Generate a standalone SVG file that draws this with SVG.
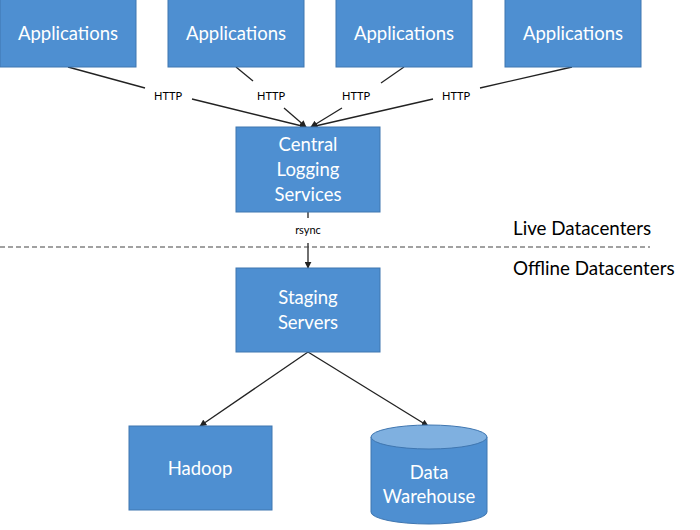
<svg xmlns="http://www.w3.org/2000/svg" width="700" height="530" viewBox="0 0 700 530">
<style>
.box{fill:#4e8fd1;stroke:#3f76b0;stroke-width:1}
.t{font-family:Lato,"Open Sans","Liberation Sans",sans-serif;fill:#fff;font-size:18.5px;text-anchor:middle}
.lbl{font-family:Lato,"Open Sans","Liberation Sans",sans-serif;fill:#000;font-size:11px;text-anchor:middle}
.side{font-family:Lato,"Open Sans","Liberation Sans",sans-serif;fill:#000;font-size:18.8px}
.c{stroke:#222;stroke-width:1.3;fill:none}
</style>
<defs>
<marker id="ah" viewBox="0 0 10 10" refX="9" refY="5" markerWidth="7" markerHeight="7" orient="auto" markerUnits="userSpaceOnUse">
<path d="M0,0 L10,5 L0,10 z" fill="#222"/>
</marker>
</defs>
<rect width="700" height="530" fill="#fff"/>
<g id="connectors">
<line class="c" x1="68" y1="67" x2="145" y2="88"/>
<line class="c" x1="192" y1="99" x2="306" y2="127" marker-end="url(#ah)"/>
<line class="c" x1="236" y1="67" x2="253" y2="81"/>
<line class="c" x1="284" y1="108" x2="306" y2="127" marker-end="url(#ah)"/>
<line class="c" x1="404" y1="67" x2="381" y2="83"/>
<line class="c" x1="342" y1="108" x2="311" y2="127" marker-end="url(#ah)"/>
<line class="c" x1="572" y1="67" x2="480" y2="88"/>
<line class="c" x1="433" y1="99" x2="311" y2="127" marker-end="url(#ah)"/>
<text class="lbl" x="168" y="100">HTTP</text>
<text class="lbl" x="271" y="100">HTTP</text>
<text class="lbl" x="356" y="100">HTTP</text>
<text class="lbl" x="456" y="100">HTTP</text>
<line class="c" x1="308" y1="212" x2="308" y2="218"/>
<text class="lbl" x="308" y="234">rsync</text>
<line class="c" x1="308" y1="243" x2="308" y2="268" marker-end="url(#ah)"/>
<line class="c" x1="308" y1="352" x2="200" y2="426" marker-end="url(#ah)"/>
<line class="c" x1="308" y1="352" x2="428" y2="426" marker-end="url(#ah)"/>
</g>
<line x1="0" y1="247" x2="650" y2="247" stroke="#444" stroke-width="1.2" stroke-dasharray="5,3"/>
<text class="side" x="513" y="235">Live Datacenters</text>
<text class="side" x="513" y="275">Offline Datacenters</text>
<g id="app1"><rect class="box" x="0" y="-1" width="136" height="68"/><text class="t" x="68" y="40">Applications</text></g>
<g id="app2"><rect class="box" x="168" y="-1" width="136" height="68"/><text class="t" x="236" y="40">Applications</text></g>
<g id="app3"><rect class="box" x="336" y="-1" width="136" height="68"/><text class="t" x="404" y="40">Applications</text></g>
<g id="app4"><rect class="box" x="505" y="-1" width="136" height="68"/><text class="t" x="573" y="40">Applications</text></g>
<g id="central"><rect class="box" x="236" y="127" width="144" height="85"/>
<text class="t" x="308" y="151">Central</text><text class="t" x="308" y="176">Logging</text><text class="t" x="308" y="201">Services</text></g>
<g id="staging"><rect class="box" x="236" y="268" width="144" height="84"/>
<text class="t" x="308" y="304">Staging</text><text class="t" x="308" y="329">Servers</text></g>
<g id="hadoop"><rect class="box" x="129" y="426" width="143" height="84"/>
<text class="t" x="200" y="475">Hadoop</text></g>
<g id="warehouse">
<path class="box" d="M371,437 L371,512 A58,12 0 0 0 487,512 L487,437 Z"/>
<ellipse cx="429" cy="437" rx="58" ry="12" fill="#7fb0e0" stroke="#3f76b0" stroke-width="1"/>
<text class="t" x="429" y="479">Data</text><text class="t" x="429" y="503">Warehouse</text></g>
</svg>
